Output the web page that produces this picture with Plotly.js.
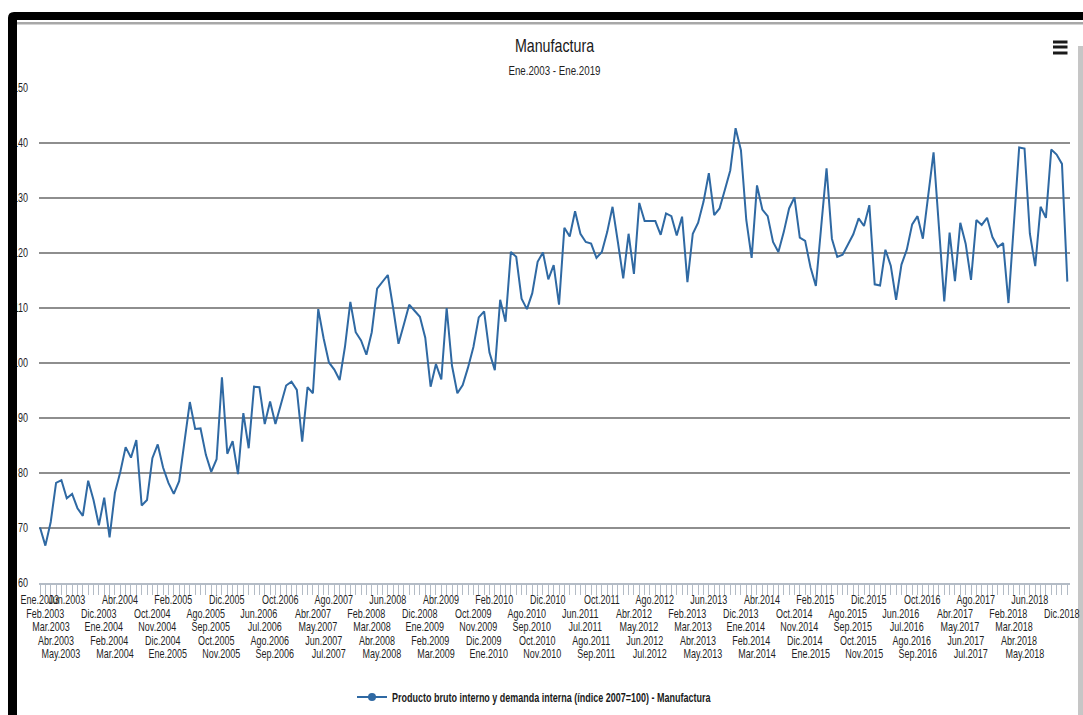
<!DOCTYPE html>
<html>
<head>
<meta charset="utf-8">
<script src="https://cdn.plot.ly/plotly-3.0.1.min.js"></script>
<style>
  html, body { margin: 0; padding: 0; background: #ffffff; }
  #chart { width: 1083px; height: 715px; }
</style>
</head>
<body>
<div id="chart"></div>
<script>
// ---- Data ----
const monthNames = ["Ene","Feb","Mar","Abr","May","Jun","Jul","Ago","Sep","Oct","Nov","Dic"];
const startYear = 2003;
const values = [
  70.1, 66.8, 71.1, 78.2, 78.7, 75.4, 76.2, 73.6, 72.2, 78.6, 75.1, 70.5,
  75.5, 68.3, 76.4, 80.2, 84.7, 82.8, 86.0, 74.1, 75.1, 82.7, 85.2, 81.0,
  78.2, 76.2, 78.5, 85.3, 92.9, 88.0, 88.1, 83.3, 80.2, 82.5, 97.4, 83.5,
  85.8, 79.8, 90.9, 84.5, 95.7, 95.6, 88.9, 93.0, 88.9, 92.4, 95.9, 96.6,
  95.1, 85.7, 95.6, 94.5, 109.8, 104.5, 100.1, 98.8, 96.9, 103.0, 111.1, 105.6,
  104.1, 101.5, 105.6, 113.5, 114.7, 116.0, 110.0, 103.5, 107.0, 110.6, 109.5, 108.4,
  104.6, 95.7, 99.8, 97.0, 110.0, 99.5, 94.5, 96.0, 99.2, 102.9, 108.3, 109.4,
  101.9, 98.7, 111.5, 107.5, 120.2, 119.3, 111.7, 109.8, 112.7, 118.4, 120.1, 115.2,
  117.8, 110.6, 124.6, 123.0, 127.6, 123.5, 122.0, 121.7, 119.1, 120.2, 123.8, 128.4,
  122.0, 115.4, 123.5, 116.2, 129.1, 125.8, 125.8, 125.8, 123.3, 127.2, 126.7, 123.2,
  126.6, 114.7, 123.5, 125.5, 129.3, 134.5, 126.9, 128.1, 131.5, 135.0, 142.7, 138.7,
  126.0, 119.1, 132.3, 127.9, 126.7, 122.0, 120.2, 123.8, 128.1, 130.1, 122.8, 122.2,
  117.4, 114.0, 124.8, 135.4, 122.6, 119.3, 119.7, 121.6, 123.4, 126.3, 124.9, 128.7,
  114.3, 114.1, 120.6, 117.7, 111.5, 117.9, 120.6, 125.2, 126.7, 122.6, 130.2, 138.3,
  124.8, 111.2, 123.7, 114.9, 125.5, 121.7, 115.1, 126.0, 125.1, 126.4, 122.9, 121.1,
  121.8, 110.9, 125.1, 139.2, 139.0, 123.5, 117.6, 128.4, 126.4, 138.8, 137.9, 136.2,
  114.8
];
const categories = values.map((v, i) => monthNames[i % 12] + "." + (startYear + Math.floor(i / 12)));
const yTicks = [60, 70, 80, 90, 100, 110, 120, 130, 140, 150];
const seriesName = "Producto bruto interno y demanda interna (índice 2007=100) - Manufactura";
const chartTitle = "Manufactura";
const chartSubtitle = "Ene.2003 - Ene.2019";

// ---- Layout helpers ----
const W = 1083, H = 715;
const M = { l: 39, r: 13, t: 88, b: 132 };
const PW = W - M.l - M.r, PH = H - M.t - M.b;
const px = x => (x - M.l) / PW;
const py = y => (H - M.b - y) / PH;
const P = (x, y) => px(x).toFixed(5) + "," + py(y).toFixed(5);
const FONT = "'Liberation Sans Narrow', 'Arial Narrow', 'Liberation Sans', Arial, sans-serif";
const NARROW = 0.75; // horizontal condensing to mimic the narrow face of the reference
const TXT = "#1f1f1f";
const idx = categories.map((c, i) => i);

// staggered category labels (as in the reference)
const annotations = [];
categories.forEach((c, i) => {
  const m = i % 10;
  let row = -1;
  if (i === 0) row = 0;
  else if (m >= 1 && m <= 5 && i < categories.length - 1) row = (m === 5) ? 0 : m;
  if (row < 0) return;
  annotations.push({
    x: i, xref: "x", y: py(600 + 13.6 * row), yref: "paper",
    text: c, showarrow: false, xanchor: "center", yanchor: "middle",
    font: { family: FONT, size: 12, color: TXT }
  });
});
annotations.push({
  x: 0.5, xref: "paper", y: py(70), yref: "paper", text: chartSubtitle,
  showarrow: false, xanchor: "center", yanchor: "middle",
  font: { family: FONT, size: 13, color: TXT }
});

const shapes = [
  { type: "path", xref: "paper", yref: "paper", layer: "above",
    path: "M" + P(8, 715) + " L" + P(8, 18) + " Q" + P(8, 12) + " " + P(14, 12) +
          " L" + P(1083, 12) + " L" + P(1083, 20) + " L" + P(17, 20) + " L" + P(17, 715) + " Z",
    fillcolor: "#000000", line: { width: 0 } },
  { type: "rect", xref: "paper", yref: "paper", layer: "above",
    x0: px(17), x1: px(1083), y0: py(22), y1: py(24.5),
    fillcolor: "#a8a8a8", line: { width: 0 } },
  { type: "rect", xref: "paper", yref: "paper", layer: "above",
    x0: px(1078), x1: px(1083), y0: py(46), y1: py(715),
    fillcolor: "#c6c6c6", line: { width: 0 } },
  { type: "rect", xref: "paper", yref: "paper", layer: "above",
    x0: px(1053), x1: px(1067.5), y0: py(40.5), y1: py(43.5), fillcolor: "#1a1a1a", line: { width: 0 } },
  { type: "rect", xref: "paper", yref: "paper", layer: "above",
    x0: px(1053), x1: px(1067.5), y0: py(45.5), y1: py(48.5), fillcolor: "#1a1a1a", line: { width: 0 } },
  { type: "rect", xref: "paper", yref: "paper", layer: "above",
    x0: px(1053), x1: px(1067.5), y0: py(51.5), y1: py(54.5), fillcolor: "#1a1a1a", line: { width: 0 } }
];

const trace = {
  type: "scatter",
  mode: "lines+markers",
  x: idx,
  y: values,
  name: seriesName,
  line: { color: "#2f69a3", width: 2 },
  marker: { color: "#2f69a3", size: 8, symbol: "circle" },
  selectedpoints: [],
  unselected: { marker: { opacity: 0 } },
  hoverinfo: "skip"
};

const layout = {
  width: W, height: H,
  margin: M,
  paper_bgcolor: "#ffffff",
  plot_bgcolor: "#ffffff",
  showlegend: true,
  title: {
    text: chartTitle,
    x: 0.5, xref: "paper", xanchor: "center",
    y: 1 - 45 / H, yref: "container", yanchor: "middle",
    font: { family: FONT, size: 19, color: "#1a1a1a" }
  },
  xaxis: {
    range: [-0.19, 192.5],
    tickmode: "linear", tick0: 0, dtick: 1,
    ticks: "outside", ticklen: 10, tickwidth: 1, tickcolor: "#b4bcc6",
    showticklabels: false,
    showgrid: false, zeroline: false,
    showline: true, linecolor: "#b4bcc6", linewidth: 1.5,
    fixedrange: true
  },
  yaxis: {
    range: [60, 150],
    tickmode: "array", tickvals: yTicks, ticktext: yTicks.map(String),
    ticks: "", ticklabelstandoff: 10,
    tickfont: { family: FONT, size: 12, color: TXT },
    showgrid: true, gridcolor: "#8e8e8e", gridwidth: 1.5,
    zeroline: false, showline: false,
    fixedrange: true
  },
  legend: {
    orientation: "h",
    xref: "container", x: 352 / W, xanchor: "left",
    yref: "container", y: 1 - 697 / H, yanchor: "middle",
    font: { family: FONT, size: 12, color: "#1a1a1a", weight: "bold" },
    bgcolor: "rgba(0,0,0,0)"
  },
  hovermode: false,
  shapes: shapes,
  annotations: annotations
};

function condenseTexts(gd, s) {
  gd.querySelectorAll("svg text").forEach(t => {
    const x = parseFloat(t.getAttribute("x")) || 0;
    const prev = t.getAttribute("transform") || "";
    t.setAttribute("transform", (prev + " translate(" + x + ",0) scale(" + s + ",1) translate(" + (-x) + ",0)").trim());
  });
}

const gd = document.getElementById("chart");
Plotly.newPlot(gd, [trace], layout, { displayModeBar: false, staticPlot: true })
  .then(() => condenseTexts(gd, NARROW));
</script>
</body>
</html>
